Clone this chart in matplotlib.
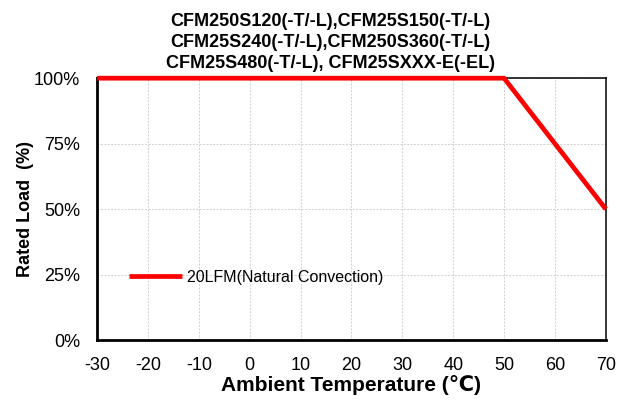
import matplotlib.pyplot as plt
from matplotlib.ticker import FuncFormatter

plt.rcParams["font.family"] = ["Liberation Sans", "DejaVu Sans"]
plt.rcParams["axes.unicode_minus"] = False

# derating curve
temps = [-30, 50, 70]
load = [100, 100, 50]
series_label = "20LFM(Natural Convection)"

x_ticks = list(range(-30, 71, 10))
y_ticks = [0, 25, 50, 75, 100]

title = ("CFM250S120(-T/-L),CFM25S150(-T/-L)\n"
         "CFM25S240(-T/-L),CFM250S360(-T/-L)\n"
         "CFM25S480(-T/-L), CFM25SXXX-E(-EL)")


def main():
    fig = plt.figure(figsize=(6.22, 4.01), dpi=100)
    ax = fig.add_axes([0.156, 0.152, 0.818, 0.653])

    ax.plot(temps, load, color="#ff0000", linewidth=3.4, label=series_label,
            solid_capstyle="butt", clip_on=False, zorder=5)

    ax.set_xlim(-30, 70)
    ax.set_ylim(0, 100)
    ax.set_xticks(x_ticks)
    ax.set_yticks(y_ticks)
    ax.yaxis.set_major_formatter(FuncFormatter(lambda v, p: f"{v:.0f}%"))
    ax.tick_params(length=0, labelsize=13)
    ax.tick_params(axis="x", pad=12)
    ax.tick_params(axis="y", pad=12)

    ax.grid(True, color="#d0d0d0", linestyle=(0, (2, 1.5)), linewidth=0.7)
    ax.set_axisbelow(True)

    for side in ["left", "bottom"]:
        ax.spines[side].set_linewidth(2.0)
    for side in ["top", "right"]:
        ax.spines[side].set_linewidth(1.1)

    ax.set_xlabel("Ambient Temperature (\u2103)", fontsize=15, weight="bold", labelpad=1)
    ax.set_ylabel("Rated Load  (%)", fontsize=13, weight="bold", labelpad=0)

    fig.text(0.531, 0.894, title, ha="center", va="center", fontsize=13,
             weight="bold", linespacing=1.33)

    ax.legend(loc="center left", bbox_to_anchor=(0.063, 0.24), frameon=False,
              handlelength=3.3, handletextpad=0.3, borderpad=0, borderaxespad=0,
              fontsize=11.5)

    fig.savefig("out.png", dpi=100)
    plt.close(fig)


if __name__ == "__main__":
    main()
